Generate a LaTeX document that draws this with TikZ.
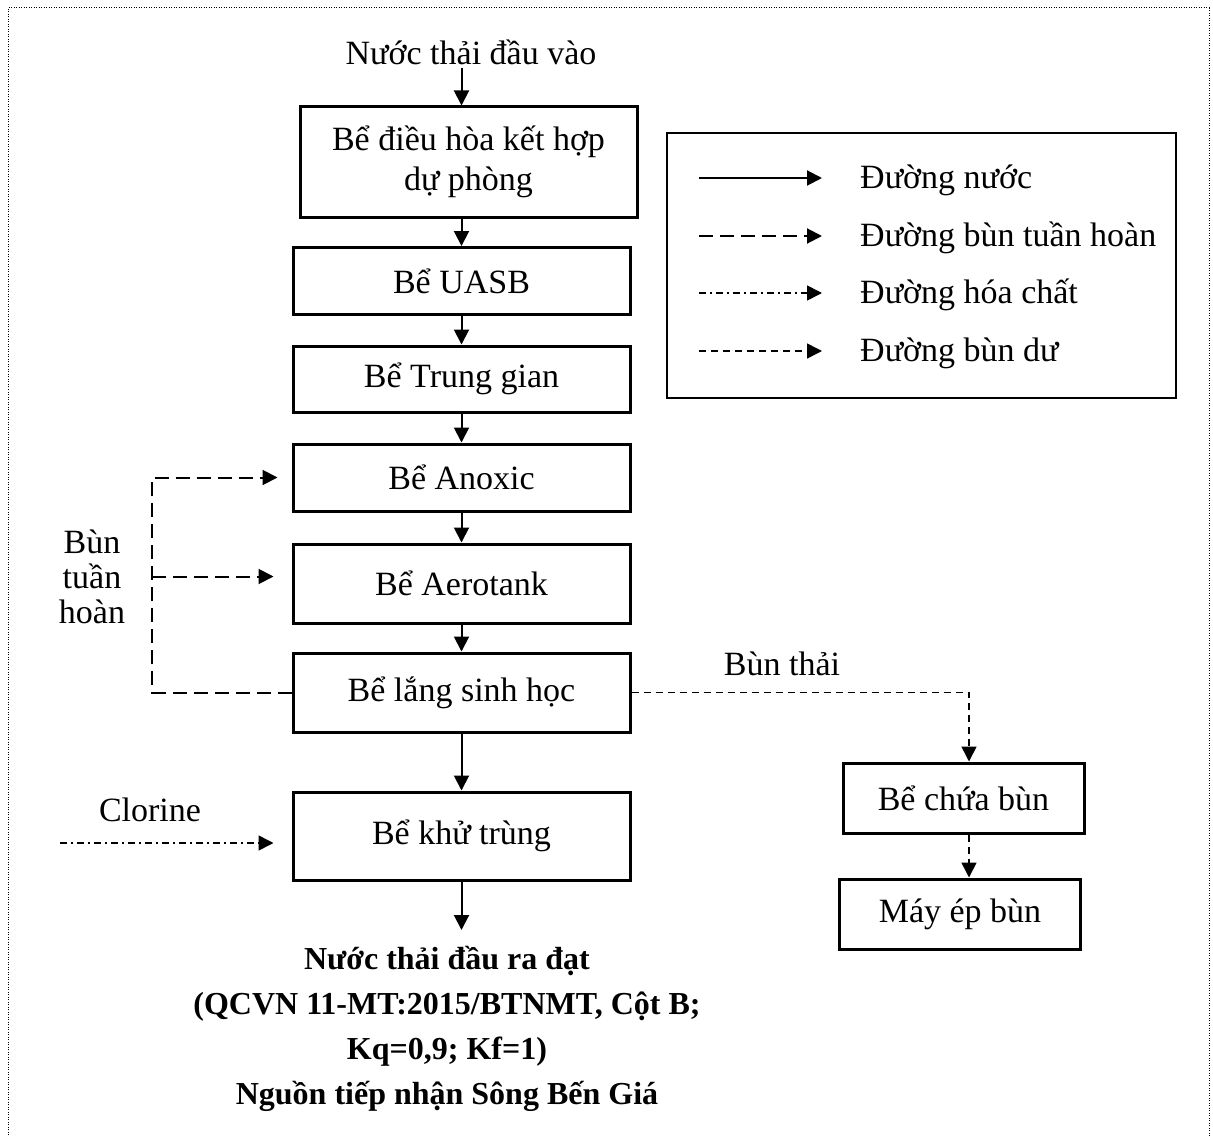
\documentclass[tikz,border=0pt]{standalone}
\usepackage{fontspec}
\setmainfont{Liberation Serif}
\usetikzlibrary{positioning, arrows.meta}

\begin{document}
\begin{tikzpicture}[
  x=1pt, y=-1pt,
  tank/.style={draw, line width=3pt, minimum width=337pt, inner sep=0pt,
               align=center, font=\fontsize{34}{40}\selectfont},
  sludgebox/.style={tank, minimum width=241pt, minimum height=70pt},
  txt/.style={font=\fontsize{34}{35}\selectfont, align=center, inner sep=3pt},
  outtxt/.style={font=\fontsize{32}{45}\selectfont\bfseries, align=center},
  arrow/.style={-{Triangle[length=15pt,width=15pt]}, line width=2pt},
  recycle/.style={arrow, dash pattern=on 14pt off 7pt},
  waste/.style={arrow, line width=1.6pt, dash pattern=on 7pt off 5pt},
  chem/.style={arrow, line width=1.6pt, dash pattern=on 7pt off 4pt on 2pt off 4pt},
  frame/.style={line width=1pt, dash pattern=on 1pt off 1.5pt}
]
  \useasboundingbox (0,0) rectangle (1213,1137);
  \draw[frame] (8,1160) -- (8,8) -- (1209,8) -- (1209,1160);

  % main line
  \node[txt] (inlet) at (471,52) {Nước thải đầu vào};
  \node[tank, minimum height=110pt] (dieuhoa)   at (468.5,162) {Bể điều hòa kết hợp\\dự phòng};
  \node[tank, minimum height=67pt]  (uasb)      at (461.5,281) {Bể UASB};
  \node[tank, minimum height=66pt]  (trunggian) at (461.5,379) {Bể Trung gian};
  \node[tank, minimum height=67pt]  (anoxic)    at (461.5,477.5) {Bể Anoxic};
  \node[tank, minimum height=79pt]  (aerotank)  at (461.5,583.5) {Bể Aerotank};
  \node[tank, minimum height=79pt]  (lang)      at (461.5,692.5) {Bể lắng sinh học};
  \node[tank, minimum height=88pt]  (khutrung)  at (461.5,836) {Bể khử trùng};
  \node[outtxt, inner xsep=0pt, inner ysep=16pt, anchor=north] (outlet) at (447,930)
    {Nước thải đầu ra đạt\\(QCVN 11-MT:2015/BTNMT, Cột B;\\Kq=0,9; Kf=1)\\Nguồn tiếp nhận Sông Bến Giá};

  \draw[arrow] (inlet.south -| uasb) -- (dieuhoa.north -| uasb);
  \draw[arrow] (dieuhoa.south -| uasb) -- (uasb);
  \draw[arrow] (uasb)      -- (trunggian);
  \draw[arrow] (trunggian) -- (anoxic);
  \draw[arrow] (anoxic)    -- (aerotank);
  \draw[arrow] (aerotank)  -- (lang);
  \draw[arrow] (lang)      -- (khutrung);
  \draw[arrow] (khutrung)  -- (outlet.north -| khutrung);

  % return sludge
  \node[txt] (buntuan) at (92,577) {Bùn\\tuần\\hoàn};
  \coordinate (rx) at (152,0);
  \coordinate (aerin) at ([yshift=7pt]aerotank.west);
  \draw[recycle, shorten >=14pt] (lang.west) -- (lang.west -| rx) |- (anoxic.west);
  \draw[recycle, shorten >=18pt] (aerin -| rx) -- (aerin);

  % chemical
  \node[txt] (clorine) at (150,810) {Clorine};
  \coordinate (clx) at (60,0);
  \coordinate (clin) at ([yshift=-7pt]khutrung.west);
  \draw[chem, shorten >=18pt] (clin -| clx) -- (clin);

  % excess sludge
  \node[sludgebox] (chuabun) at (963.5,798) {Bể chứa bùn};
  \node[sludgebox] (mayep)   at (960,914)   {Máy ép bùn};
  \node[txt] (bunthai) at (782,664) {Bùn thải};
  \coordinate (sx) at ([xshift=5.5pt]chuabun.north);
  \draw[waste] (lang.east) -| (sx);
  \draw[waste] (chuabun.south -| sx) -- (mayep.north -| sx);

  % legend
  \node[draw, line width=2pt, minimum width=509pt, minimum height=265pt] (legend) at (921.5,265.5) {};
  \coordinate (lgx) at (822,0);
  \coordinate (lg1) at (699,178);
  \coordinate (lg2) at (699,236);
  \coordinate (lg3) at (699,293);
  \coordinate (lg4) at (699,351);
  \draw[arrow]   (lg1) -- (lg1 -| lgx);
  \draw[recycle] (lg2) -- (lg2 -| lgx);
  \draw[chem]    (lg3) -- (lg3 -| lgx);
  \draw[waste]   (lg4) -- (lg4 -| lgx);
  \node[txt, anchor=west] (lgt1) at (857,180) {Đường nước};
  \node[txt, anchor=west] (lgt2) at (857,238) {Đường bùn tuần hoàn};
  \node[txt, anchor=west] (lgt3) at (857,295) {Đường hóa chất};
  \node[txt, anchor=west] (lgt4) at (857,353) {Đường bùn dư};
\end{tikzpicture}
\end{document}
